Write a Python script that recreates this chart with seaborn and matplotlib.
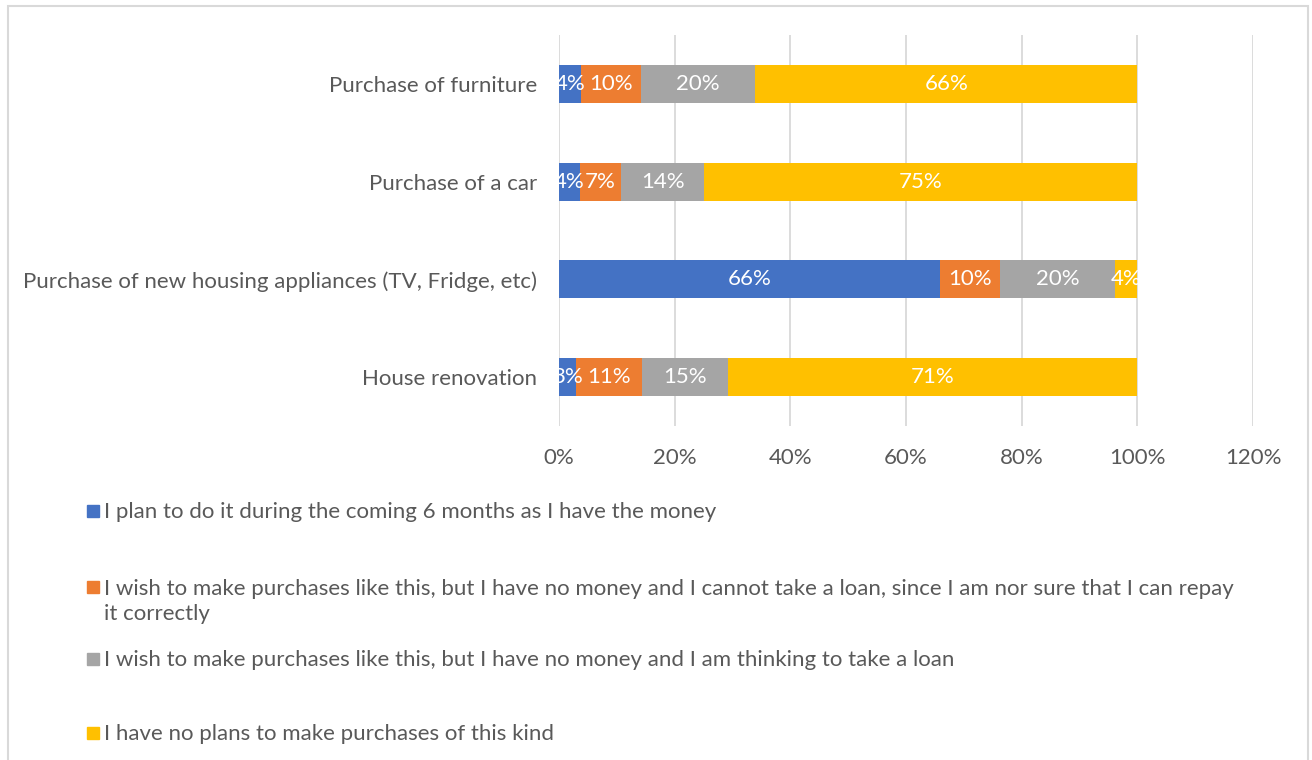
import textwrap
import pandas as pd
import seaborn as sns
import matplotlib.pyplot as plt
from matplotlib.patches import Rectangle
from matplotlib.ticker import PercentFormatter

# -------------------------
# Data
# -------------------------
categories = [
    "Purchase of furniture",
    "Purchase of a car",
    "Purchase of new housing appliances (TV, Fridge, etc)",
    "House renovation",
]
series_names = [
    "I plan to do it during the coming 6 months as I have the money",
    "I wish to make purchases like this, but I have no money and I cannot take a loan, since I am nor sure that I can repay it correctly",
    "I wish to make purchases like this, but I have no money and I am thinking to take a loan",
    "I have no plans to make purchases of this kind",
]
plan_now = [3.8, 3.6, 65.9, 2.9]
no_loan = [10.4, 7.1, 10.4, 11.4]
take_loan = [19.7, 14.4, 19.8, 14.9]
no_plans = [66.1, 74.9, 3.9, 70.8]
x_ticks = [0, 20, 40, 60, 80, 100, 120]

colors = ["#4472C4", "#ED7D31", "#A5A5A5", "#FFC000"]
text_grey = "#595959"
FS = 16

# -------------------------
# Styling
# -------------------------
sns.set_style("white")
plt.rcParams["font.family"] = ["Lato", "DejaVu Sans"]

df = pd.DataFrame({"category": categories})
cols = []
for name, vals in zip(series_names, [plan_now, no_loan, take_loan, no_plans]):
    df[name] = vals
    cols.append(name)

# cumulative totals so the bars can be overdrawn back to front
cum = df[cols].cumsum(axis=1)

fig = plt.figure(figsize=(13.12, 7.6), dpi=100)
ax = fig.add_axes([559 / 1312, (760 - 426) / 760, 694 / 1312, 391 / 760])

for i in reversed(range(len(cols))):
    sns.barplot(data=pd.DataFrame({"category": categories, "v": cum[cols[i]]}),
                x="v", y="category", orient="h", color=colors[i],
                width=0.39, saturation=1, linewidth=0, ax=ax, zorder=2)

# data labels
for i, name in enumerate(cols):
    for j, cat in enumerate(categories):
        v = df.loc[j, name]
        center = cum.loc[j, name] - v / 2
        ax.text(center, j, f"{v:.0f}%", ha="center", va="center",
                color="white", fontsize=FS, zorder=3)

ax.set_xlim(0, 120)
ax.set_ylim(3.5, -0.5)
ax.set_xticks(x_ticks)
ax.xaxis.set_major_formatter(PercentFormatter(decimals=0))
ax.grid(axis="x", color="#D9D9D9", linewidth=1.3, zorder=0)
ax.set_axisbelow(True)
for s in ax.spines.values():
    s.set_visible(False)
ax.tick_params(axis="both", length=0, labelsize=FS, labelcolor=text_grey)
ax.tick_params(axis="y", pad=16)
ax.tick_params(axis="x", pad=16)
ax.set_xlabel("")
ax.set_ylabel("")

# legend drawn by hand (Excel style, one entry per row)
legend_y = [511, 587, 659, 733]
line_step = 26  # px between wrapped lines
for name, color, y in zip(series_names, colors, legend_y):
    label = textwrap.fill(name, 118)
    n_lines = label.count("\n") + 1
    fig.patches.append(Rectangle((87 / 1312, 1 - (y + 6) / 760), 12 / 1312, 12 / 760,
                                 transform=fig.transFigure, color=color))
    # va="baseline" anchors the last line, so shift by the extra lines
    fig.text(104 / 1312, 1 - (y + 7 + (n_lines - 1) * line_step) / 760, label,
             fontsize=FS, color=text_grey, va="baseline", ha="left", linespacing=1.3)

# chart border
fig.patches.append(Rectangle((8 / 1312, -0.01), 1300 / 1312, 1 - 6 / 760 + 0.01,
                             transform=fig.transFigure, fill=False,
                             edgecolor="#D9D9D9", linewidth=1.5))

plt.savefig("out.png", dpi=100)
plt.close()
